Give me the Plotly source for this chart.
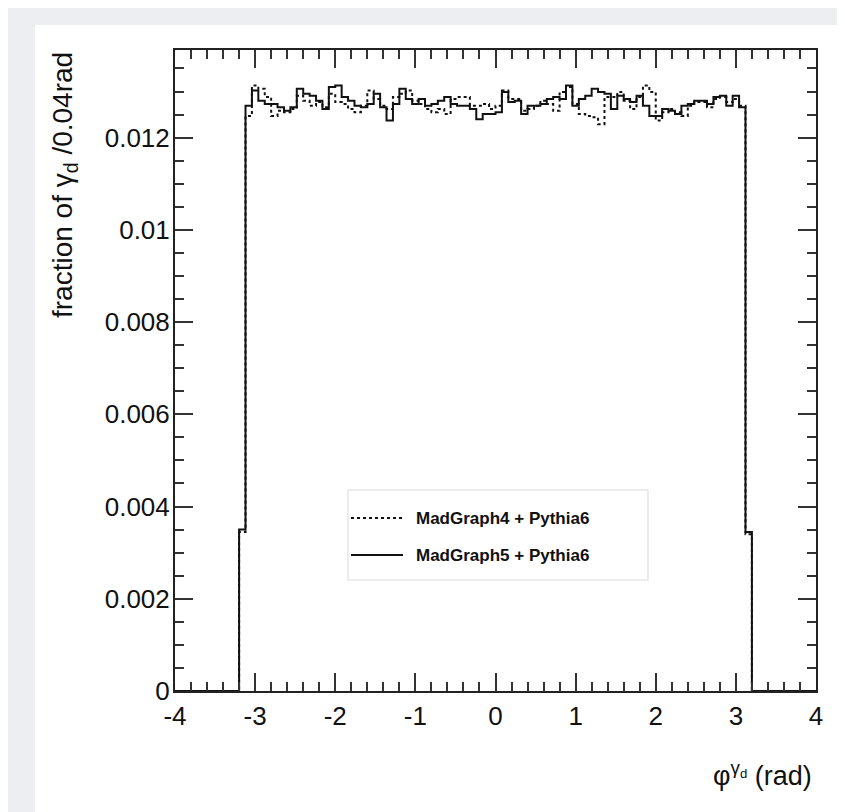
import numpy as np
import plotly.graph_objects as go

# ---------------- data ----------------
bin_width = 0.08
x_lo, x_hi = -4.0, 4.0
edges = np.round(np.arange(x_lo, x_hi + bin_width / 2, bin_width), 2)  # 101 edges

# fractions in the 78 full bins between -3.12 and 3.12
mg5_core = [0.01269, 0.01302, 0.01280, 0.01273, 0.01273, 0.01266, 0.01258, 0.01266,
            0.01306, 0.01295, 0.01291, 0.01280, 0.01262, 0.01310, 0.01313, 0.01288,
            0.01280, 0.01269, 0.01266, 0.01273, 0.01295, 0.01266, 0.01237, 0.01273,
            0.01306, 0.01284, 0.01273, 0.01284, 0.01269, 0.01273, 0.01280, 0.01288,
            0.01273, 0.01269, 0.01269, 0.01262, 0.01240, 0.01251, 0.01251, 0.01255,
            0.01299, 0.01277, 0.01280, 0.01251, 0.01269, 0.01269, 0.01273, 0.01284,
            0.01288, 0.01284, 0.01313, 0.01269, 0.01284, 0.01291, 0.01306, 0.01299,
            0.01295, 0.01262, 0.01291, 0.01284, 0.01277, 0.01291, 0.01269, 0.01247,
            0.01247, 0.01262, 0.01258, 0.01251, 0.01269, 0.01273, 0.01280, 0.01280,
            0.01273, 0.01288, 0.01291, 0.01269, 0.01291, 0.01266]
mg4_core = [0.01247, 0.01313, 0.01306, 0.01288, 0.01247, 0.01258, 0.01255, 0.01262,
            0.01291, 0.01280, 0.01269, 0.01277, 0.01266, 0.01295, 0.01277, 0.01273,
            0.01262, 0.01255, 0.01269, 0.01302, 0.01284, 0.01269, 0.01262, 0.01288,
            0.01295, 0.01302, 0.01280, 0.01273, 0.01262, 0.01255, 0.01262, 0.01251,
            0.01284, 0.01288, 0.01288, 0.01269, 0.01269, 0.01273, 0.01262, 0.01269,
            0.01302, 0.01284, 0.01284, 0.01258, 0.01262, 0.01269, 0.01280, 0.01273,
            0.01258, 0.01299, 0.01310, 0.01273, 0.01251, 0.01247, 0.01244, 0.01229,
            0.01288, 0.01288, 0.01299, 0.01280, 0.01262, 0.01288, 0.01313, 0.01299,
            0.01237, 0.01255, 0.01262, 0.01255, 0.01247, 0.01269, 0.01277, 0.01277,
            0.01266, 0.01284, 0.01288, 0.01277, 0.01284, 0.01269]
# partially filled edge bins [-3.20,-3.12] and [3.12,3.20]
mg5_edges = [0.00350, 0.00345]
mg4_edges = [0.00345, 0.00340]
n_empty = 10  # empty bins on each side

mg5 = [0.0] * n_empty + [mg5_edges[0]] + mg5_core + [mg5_edges[1]] + [0.0] * n_empty
mg4 = [0.0] * n_empty + [mg4_edges[0]] + mg4_core + [mg4_edges[1]] + [0.0] * n_empty

names = ["MadGraph4 + Pythia6", "MadGraph5 + Pythia6"]
y_tickvals = [0, 0.002, 0.004, 0.006, 0.008, 0.01, 0.012]
y_ticktext = ["0", "0.002", "0.004", "0.006", "0.008", "0.01", "0.012"]
x_tickvals = [-4, -3, -2, -1, 0, 1, 2, 3, 4]
x_ticktext = ["-4", "-3", "-2", "-1", "0", "1", "2", "3", "4"]

# ---------------- figure ----------------
W, H = 845, 812
L, R, T, B = 167, 37, 42, 129
pw, ph = W - L - R, H - T - B

def px_x(px):
    return (px - L) / pw

def px_y(py):
    return (H - B - py) / ph

FONT = "Liberation Sans, Arial, Helvetica, sans-serif"
INK = "#111111"

fig = go.Figure()
fig.add_trace(go.Scatter(x=edges, y=mg4 + [mg4[-1]], mode="lines", line_shape="hv",
                         line=dict(color=INK, width=2, dash="3px,3px"),
                         name=names[0], showlegend=False, hoverinfo="skip"))
fig.add_trace(go.Scatter(x=edges, y=mg5 + [mg5[-1]], mode="lines", line_shape="hv",
                         line=dict(color=INK, width=2),
                         name=names[1], showlegend=False, hoverinfo="skip"))

axis_common = dict(showline=True, linecolor="#222222", linewidth=2, mirror="ticks",
                   ticks="inside", tickcolor="#333333", tickwidth=1.5,
                   showgrid=False, zeroline=False,
                   tickfont=dict(family=FONT, size=26, color=INK))

fig.update_xaxes(range=[x_lo, x_hi], tickmode="array", tickvals=x_tickvals,
                 ticktext=x_ticktext, ticklen=18, ticklabelstandoff=1,
                 minor=dict(ticks="inside", dtick=0.2, ticklen=9, tickcolor="#333333",
                            tickwidth=1.5, showgrid=False),
                 **axis_common)
fig.update_yaxes(range=[0, 0.0139], tickmode="array", tickvals=y_tickvals,
                 ticktext=y_ticktext, ticklen=18, ticklabelstandoff=-2,
                 minor=dict(ticks="inside", dtick=0.0005, ticklen=9, tickcolor="#333333",
                            tickwidth=1.5, showgrid=False),
                 **axis_common)

shapes = [
    # white page panel
    dict(type="rect", xref="paper", yref="paper", layer="below",
         x0=px_x(27), x1=px_x(W + 5), y0=px_y(811), y1=px_y(17),
         fillcolor="white", line=dict(width=0)),
    # legend box
    dict(type="rect", xref="paper", yref="paper", layer="above",
         x0=px_x(340), x1=px_x(640), y0=px_y(572), y1=px_y(482),
         fillcolor="rgba(255,255,255,0)", line=dict(color="#e6e6e6", width=1.5)),
    # legend samples
    dict(type="line", xref="paper", yref="paper",
         x0=px_x(343), x1=px_x(395), y0=px_y(510), y1=px_y(510),
         line=dict(color=INK, width=2, dash="3px,3px")),
    dict(type="line", xref="paper", yref="paper",
         x0=px_x(343), x1=px_x(395), y0=px_y(547), y1=px_y(547),
         line=dict(color=INK, width=2)),
]

annotations = [
    dict(text="<b>" + names[0] + "</b>", xref="paper", yref="paper",
         x=px_x(406), y=px_y(510), xanchor="left", yanchor="middle", showarrow=False,
         font=dict(family=FONT, size=17, color=INK)),
    dict(text="<b>" + names[1] + "</b>", xref="paper", yref="paper",
         x=px_x(406), y=px_y(547), xanchor="left", yanchor="middle", showarrow=False,
         font=dict(family=FONT, size=17, color=INK)),
    # y title
    dict(text="fraction of γ<sub>d</sub> /0.04rad", xref="paper", yref="paper",
         x=px_x(56), y=1.0, xanchor="center", yanchor="top", textangle=-90,
         showarrow=False, font=dict(family=FONT, size=28, color=INK)),
    # x title
    dict(text="φ<sup>γ<sub>d</sub></sup> (rad)", xref="paper", yref="paper",
         x=px_x(806), y=px_y(766), xanchor="right", yanchor="middle",
         showarrow=False, font=dict(family=FONT, size=27, color=INK)),
]

fig.update_layout(width=W, height=H, margin=dict(l=L, r=R, t=T, b=B, pad=0),
                  paper_bgcolor="#eceef1", plot_bgcolor="white",
                  shapes=shapes, annotations=annotations, showlegend=False,
                  font=dict(family=FONT, color=INK))

fig.write_html("out.html")
